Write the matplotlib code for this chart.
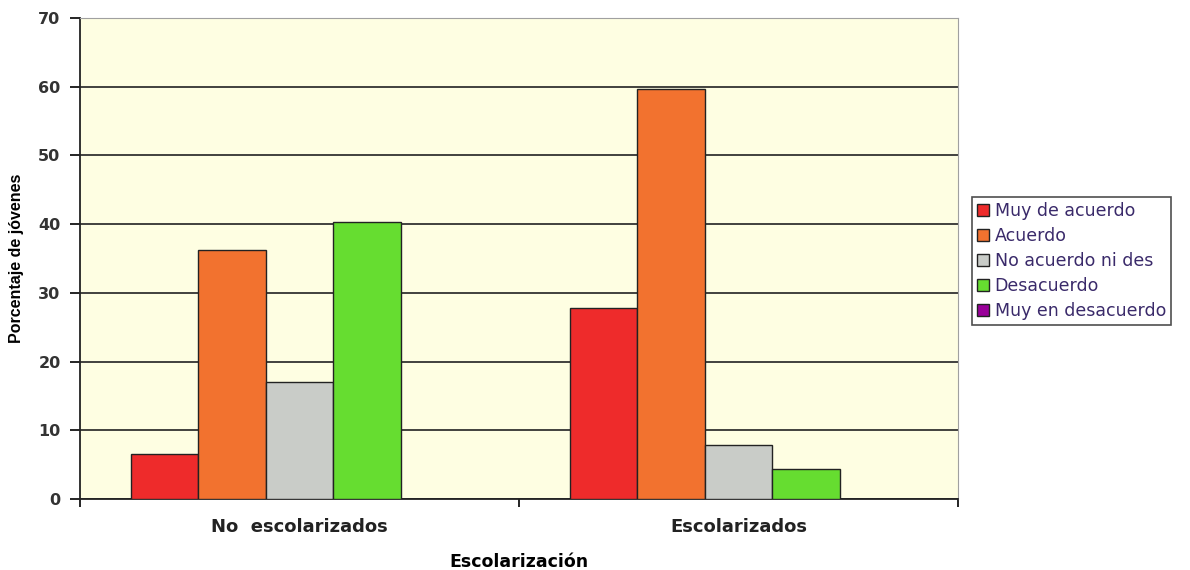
import matplotlib.pyplot as plt
import numpy as np

plt.rcParams['font.family'] = ['DejaVu Sans']

# data
grupos = ['No  escolarizados', 'Escolarizados']
series = ['Muy de acuerdo', 'Acuerdo', 'No acuerdo ni des', 'Desacuerdo', 'Muy en desacuerdo']
muy_de_acuerdo = [6.5, 27.8]
acuerdo = [36.2, 59.7]
ni_acuerdo = [17.0, 7.9]
desacuerdo = [40.3, 4.4]
muy_desacuerdo = [0.0, 0.0]
colores = ['#ee2b2b', '#f2722f', '#c9ccc8', '#66dd30', '#990099']

valores = [muy_de_acuerdo, acuerdo, ni_acuerdo, desacuerdo, muy_desacuerdo]

fig = plt.figure(figsize=(11.9, 5.7), dpi=100)
ax = fig.add_axes([80/1190, 71/570, 878/1190, 481/570])
ax.set_facecolor('#fefee2')

# bars: 5 per group, excel-like gap
n = len(series)
w = 1.0 / (n + 1.5)
x = np.arange(len(grupos))
for i, (nom, v, c) in enumerate(zip(series, valores, colores)):
    pos = x - (n * w) / 2 + w * (i + 0.5)
    ax.bar(pos, v, width=w, color=c, edgecolor='#222222', linewidth=1.0,
           label=nom, zorder=3)

ax.set_xlim(-0.5, 1.5)
ax.set_ylim(0, 70)
ax.set_yticks(range(0, 71, 10))
ax.yaxis.grid(True, color='#222222', linewidth=1.2, zorder=1)
ax.set_axisbelow(True)

# category labels and boundary ticks
ax.set_xticks([-0.5, 0.5, 1.5])
ax.set_xticklabels([])
ax.set_xticks(x, minor=True)
ax.set_xticklabels(grupos, minor=True, fontsize=13, fontweight='bold', color='#222222')
ax.tick_params(axis='x', which='minor', length=0, pad=14)
ax.tick_params(axis='x', which='major', length=6, width=1.2, direction='out')
ax.tick_params(axis='y', length=7, width=1.2, direction='out', labelsize=11.5, pad=7)
for lab in ax.get_yticklabels():
    lab.set_fontweight('bold')
    lab.set_color('#333333')

for s in ['left', 'bottom']:
    ax.spines[s].set_color('#222222')
    ax.spines[s].set_linewidth(1.3)
for s in ['top', 'right']:
    ax.spines[s].set_color('#a0a0a0')
    ax.spines[s].set_linewidth(0.8)

ax.set_ylabel('Porcentaje de jóvenes', fontsize=11.5, fontweight='bold', labelpad=10,
              family='Liberation Sans')
ax.set_xlabel('Escolarización', fontsize=12.5, fontweight='bold', labelpad=12)

leg = ax.legend(loc='upper left', bbox_to_anchor=(972/1190, 373/570), bbox_transform=fig.transFigure,
                frameon=True, fancybox=False, edgecolor='#222222', fontsize=12.5,
                handlelength=0.7, handleheight=0.7, handletextpad=0.3,
                labelspacing=0.4, borderpad=0.3, borderaxespad=0)
leg.get_frame().set_linewidth(1.2)
for t in leg.get_texts():
    t.set_color('#3a2a6a')

fig.savefig('out.png', dpi=100)
